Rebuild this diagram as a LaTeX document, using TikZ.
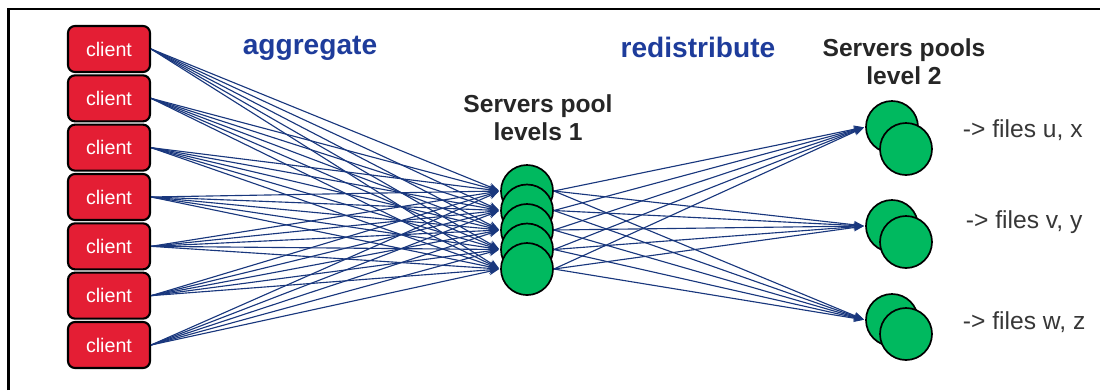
\documentclass[tikz,border=0pt]{standalone}
\usepackage{fontspec}
\setmainfont{Liberation Sans}
\usetikzlibrary{arrows.meta,positioning}
\definecolor{clientred}{RGB}{228,30,52}
\definecolor{poolgreen}{RGB}{0,185,95}
\definecolor{linkblue}{RGB}{25,55,125}
\definecolor{titleblue}{RGB}{30,60,155}
\definecolor{filegray}{RGB}{55,55,55}

\begin{document}
\begin{tikzpicture}[x=0.025cm,y=-0.025cm,->,>={Stealth[length=7pt,width=5.5pt]},
		shorten >=1pt,node distance=1.233cm]
		\tikzstyle{client}=[rectangle,rounded corners=5pt,fill=clientred,draw=black,line width=1.5pt,
			text=white,minimum width=2.05cm,minimum height=1.15cm,font=\fontsize{14}{16}\selectfont]
		\tikzstyle{server}=[circle,fill=poolgreen,draw=black,line width=1.2pt,minimum size=1.3cm,inner sep=0pt]
		\tikzstyle{title}=[text=titleblue,font=\bfseries\fontsize{20}{22}\selectfont]
		\tikzstyle{heading}=[align=center,text=black!85,font=\bfseries\fontsize{17.5}{20}\selectfont]
		\tikzstyle{files}=[anchor=west,text=filegray,font=\fontsize{17.5}{20}\selectfont]
		\tikzstyle{link}=[color=linkblue,line width=0.8pt]
		
		\useasboundingbox (0,0) rectangle (1100,390);
		\draw[-,shorten >=0pt,line width=1.5pt] (8.5,390) |- (1100,9);
		
		% clients
		\node[client] (c1) at (109,49)   {client};
		\node[client] (c2) [below of=c1] {client};
		\node[client] (c3) [below of=c2] {client};
		\node[client] (c4) [below of=c3] {client};
		\node[client] (c5) [below of=c4] {client};
		\node[client] (c6) [below of=c5] {client};
		\node[client] (c7) [below of=c6] {client};
		
		% servers pool, level 1
		\node[server] (s1) at (527,191)                        {};
		\node[server] (s2) [below of=s1,node distance=0.4875cm] {};
		\node[server] (s3) [below of=s2,node distance=0.4875cm] {};
		\node[server] (s4) [below of=s3,node distance=0.4875cm] {};
		\node[server] (s5) [below of=s4,node distance=0.4875cm] {};
		
		% servers pools, level 2
		\node[server] (ux)  at (892,127) {};
		\node[server] (ux2) at (906,149) {};
		\node[server] (vy)  at (892,226) {};
		\node[server] (vy2) at (906,242) {};
		\node[server] (wz)  at (892,320) {};
		\node[server] (wz2) at (906,334) {};
		
		\node[title] (agg)   at (310,48) {aggregate};
		\node[title] (redis) at (698,47) {redistribute};
		\node[heading] (lvl1) at (538,118) {Servers pool\\levels 1};
		\node[heading] (lvl2) at (904,62)  {Servers pools\\level 2};
		
		\node[files] (fux) at (958,130) {-> files u, x};
		\node[files] (fvy) at (961,222) {-> files v, y};
		\node[files] (fwz) at (958,322) {-> files w, z};
		
		\path[link] (c1.east) edge (s1.west) edge (s2.west) edge (s3.west) edge (s4.west) edge (s5.west)
		(c2.east) edge (s1.west) edge (s2.west) edge (s3.west) edge (s4.west) edge (s5.west)
		(c3.east) edge (s1.west) edge (s2.west) edge (s3.west) edge (s4.west) edge (s5.west)
		(c4.east) edge (s1.west) edge (s2.west) edge (s3.west) edge (s4.west) edge (s5.west)
		(c5.east) edge (s1.west) edge (s2.west) edge (s3.west) edge (s4.west) edge (s5.west)
		(c6.east) edge (s1.west) edge (s2.west) edge (s3.west) edge (s4.west) edge (s5.west)
		(c7.east) edge (s1.west) edge (s2.west) edge (s3.west) edge (s4.west) edge (s5.west);
		
		\path[link] (s1.east) edge (ux.west) edge (vy.west) edge (wz.west)
		(s2.east) edge (ux.west) edge (vy.west) edge (wz.west)
		(s3.east) edge (ux.west) edge (vy.west) edge (wz.west)
		(s4.east) edge (ux.west) edge (vy.west) edge (wz.west)
		(s5.east) edge (ux.west) edge (vy.west) edge (wz.west);
\end{tikzpicture}
\end{document}
